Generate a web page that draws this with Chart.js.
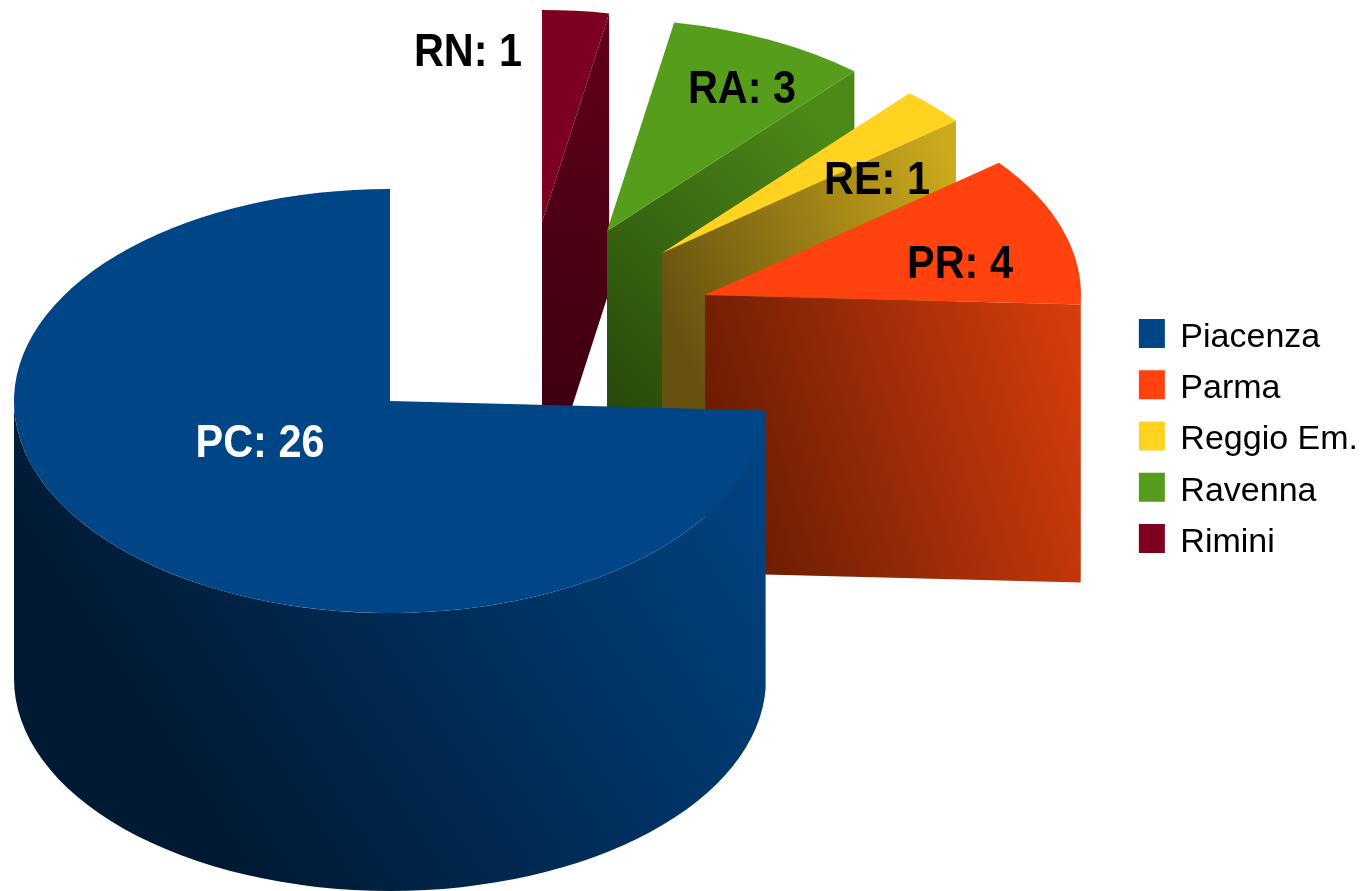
<!DOCTYPE html>
<html>
<head>
<meta charset="utf-8">
<title>Province</title>
<script src="https://cdn.jsdelivr.net/npm/chart.js@4"></script>
<style>
    html, body { margin: 0; padding: 0; background: #ffffff; }
    canvas { display: block; }
</style>
</head>
<body>
<canvas id="torta" width="1366" height="891"></canvas>
<script>
// Dati: ordine orario a partire da nord, la legenda li mostra al contrario
const province = ['Rimini', 'Ravenna', 'Reggio Em.', 'Parma', 'Piacenza'];
const sigle = ['RN', 'RA', 'RE', 'PR', 'PC'];
const valori = [1, 3, 1, 4, 26];
const colori = ['#7e0021', '#579d1c', '#ffd320', '#ff420e', '#004586'];

// Vista 3D: centro di ogni fetta sul piano superiore (le fette sono esplose)
const centriX = [542, 607, 662, 705, 390];
const centriY = [222, 231, 253, 295, 401];
const RAGGIO = 376;
const SCHIACCIA = 0.5638; // rapporto tra asse verticale e orizzontale
const SPESSORE = 278;

// Etichette: centro del testo
const etichetteX = [468, 742, 877, 960, 260];
const etichetteY = [53, 90, 181, 265, 444];
const coloriEtichette = ['#000000', '#000000', '#000000', '#000000', '#ffffff'];

// Sfumature delle pareti: [x0, y0, x1, y1, colore scuro, colore chiaro]
const pareti = [
    [542, 450, 609, 30, '#3a0010', '#600018'],
    [608, 400, 855, 150, '#284a0c', '#4c8a18'],
    [662, 300, 955, 170, '#685210', '#ccaa1c'],
    [705, 450, 1090, 330, '#671c04', '#da3e0c'],
    [200, 800, 760, 430, '#001a34', '#004586']
];

const torta3d = {
    id: 'torta3d',
    beforeDraw(chart) {
        // il testo della legenda sta 4px piu' in basso dei quadratini
        const ctx = chart.ctx;
        ctx.fillText = (t, x, y) => CanvasRenderingContext2D.prototype.fillText.call(ctx, t, x, y + 4);
    },
    beforeDatasetsDraw(chart) {
        const ctx = chart.ctx;
        delete ctx.fillText;
        const fette = chart.getDatasetMeta(0).data;

        fette.forEach((arc, i) => {
            const cx = centriX[i], cy = centriY[i];
            const p = pareti[i];
            const grad = ctx.createLinearGradient(p[0], p[1], p[2], p[3]);
            grad.addColorStop(0, p[4]);
            grad.addColorStop(1, p[5]);
            ctx.fillStyle = grad;

            // parete esterna: solo la parte rivolta verso chi guarda
            const a0 = Math.max(arc.startAngle, 0);
            const a1 = Math.min(arc.endAngle, Math.PI);
            if (a1 > a0) {
                ctx.beginPath();
                ctx.ellipse(cx, cy, RAGGIO, RAGGIO * SCHIACCIA, 0, a0, a1);
                ctx.ellipse(cx, cy + SPESSORE, RAGGIO, RAGGIO * SCHIACCIA, 0, a1, a0, true);
                ctx.closePath();
                ctx.fill();
            }

            // faccia di taglio finale, visibile se guarda verso il basso
            if (Math.cos(arc.endAngle) > 0.001) {
                const ex = cx + RAGGIO * Math.cos(arc.endAngle);
                const ey = cy + RAGGIO * SCHIACCIA * Math.sin(arc.endAngle);
                ctx.beginPath();
                ctx.moveTo(cx, cy);
                ctx.lineTo(ex, ey);
                ctx.lineTo(ex, ey + SPESSORE);
                ctx.lineTo(cx, cy + SPESSORE);
                ctx.closePath();
                ctx.fill();
            }

            // piano superiore: lo disegna l'arco di Chart.js, schiacciato
            ctx.save();
            ctx.translate(cx, cy);
            ctx.scale(1, SCHIACCIA);
            ctx.translate(-arc.x, -arc.y);
            arc.draw(ctx);
            ctx.restore();
        });

        // etichette sopra a tutto
        ctx.save();
        ctx.font = 'bold 46px "Liberation Sans"';
        ctx.textAlign = 'center';
        ctx.textBaseline = 'middle';
        sigle.forEach((s, i) => {
            ctx.save();
            ctx.translate(etichetteX[i], etichetteY[i]);
            ctx.scale(0.9, 1);
            ctx.fillStyle = coloriEtichette[i];
            ctx.fillText(s + ': ' + valori[i], 0, 0);
            ctx.restore();
        });
        ctx.restore();

        return false; // le fette sono gia' state disegnate qui
    }
};

new Chart(document.getElementById('torta'), {
    type: 'pie',
    plugins: [torta3d],
    data: {
        labels: province,
        datasets: [{
            data: valori,
            backgroundColor: colori,
            borderWidth: 0
        }]
    },
    options: {
        responsive: false,
        animation: false,
        radius: RAGGIO,
        layout: { padding: { right: -2, bottom: 19 } },
        plugins: {
            tooltip: { enabled: false },
            legend: {
                position: 'right',
                reverse: true,
                labels: {
                    boxWidth: 23,
                    boxHeight: 26,
                    padding: 17.3,
                    color: '#000000',
                    font: { family: '"Liberation Sans"', size: 34 },
                    generateLabels(chart) {
                        // bordo dello stesso colore per avere il quadratino 26x29
                        return Chart.overrides.pie.plugins.legend.labels.generateLabels(chart)
                            .map(l => ({ ...l, strokeStyle: l.fillStyle, lineWidth: 3 }));
                    }
                }
            }
        }
    }
});
</script>
</body>
</html>
